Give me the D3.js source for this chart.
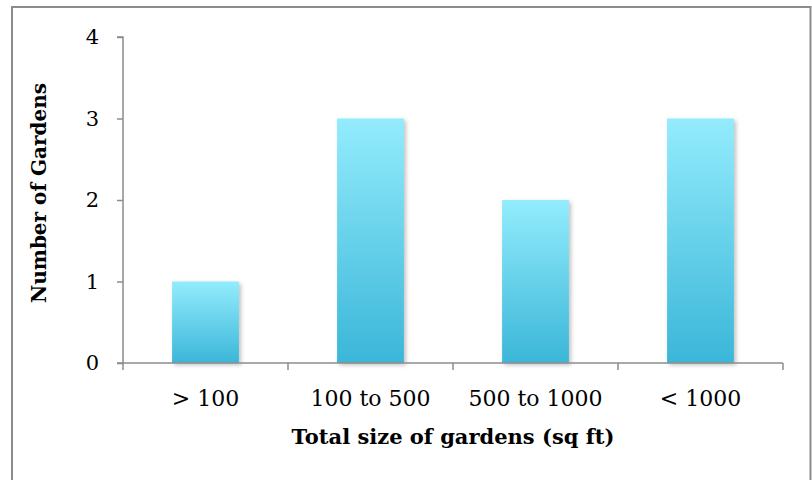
<!DOCTYPE html>
<html>
<head>
<meta charset="utf-8">
<script src="https://cdn.jsdelivr.net/npm/d3@7"></script>
<style>
  html, body { margin: 0; padding: 0; background: #fff; }
  svg { display: block; }
</style>
</head>
<body>
<svg id="chart" width="812" height="480"></svg>
<script>
// Garden counts by total size band
const categories = ["> 100", "100 to 500", "500 to 1000", "< 1000"];
const gardenCounts = [1, 3, 2, 3];
const yTicks = [0, 1, 2, 3, 4];
const xTitle = "Total size of gardens (sq ft)";
const yTitle = "Number of Gardens";

const svg = d3.select("#chart");
const font = "'DejaVu Serif', 'Liberation Serif', serif";

// frame around the chart area
svg.append("rect")
  .attr("x", 12).attr("y", 7)
  .attr("width", 798.5).attr("height", 500)
  .attr("fill", "#fff")
  .attr("stroke", "#8c8c8c").attr("stroke-width", 2);

const plot = { left: 123, right: 783, top: 37, bottom: 363 };

const x = d3.scaleBand().domain(categories).range([plot.left, plot.right]).padding(0);
const y = d3.scaleLinear().domain([0, 4]).range([plot.bottom, plot.top]);

const defs = svg.append("defs");
const grad = defs.append("linearGradient")
  .attr("id", "barFill").attr("x1", 0).attr("y1", 0).attr("x2", 0).attr("y2", 1);
grad.append("stop").attr("offset", "0%").attr("stop-color", "#93ecfd");
grad.append("stop").attr("offset", "100%").attr("stop-color", "#3bb6d8");

const shadow = defs.append("filter").attr("id", "barShadow")
  .attr("x", "-20%").attr("y", "-20%").attr("width", "150%").attr("height", "150%");
shadow.append("feDropShadow")
  .attr("dx", 2).attr("dy", 2).attr("stdDeviation", 2)
  .attr("flood-color", "#000").attr("flood-opacity", 0.25);

// bars
const barFrac = 0.405;
svg.append("g").selectAll("rect")
  .data(categories)
  .join("rect")
  .attr("x", d => x(d) + x.bandwidth() * (1 - barFrac) / 2)
  .attr("width", x.bandwidth() * barFrac)
  .attr("y", (d, i) => y(gardenCounts[i]))
  .attr("height", (d, i) => y(0) - y(gardenCounts[i]))
  .attr("fill", "url(#barFill)")
  .attr("filter", "url(#barShadow)");

const axisColor = "#8c8c8c";

// y axis
const yAxis = svg.append("g")
  .attr("transform", `translate(${plot.left},0)`)
  .call(d3.axisLeft(y).tickValues(yTicks).tickFormat(d3.format("d")).tickSize(6).tickPadding(18));
yAxis.select(".domain").attr("stroke", axisColor).attr("stroke-width", 1.5).attr("d", `M-6,${plot.top}H0V${plot.bottom}H-6`);
yAxis.selectAll(".tick line").attr("stroke", axisColor).attr("stroke-width", 1.5);
yAxis.selectAll(".tick text").attr("font-family", font).attr("font-size", 21).attr("fill", "#000");

// x axis with ticks on the band edges
const xAxisG = svg.append("g").attr("transform", `translate(0,${plot.bottom})`);
xAxisG.append("line")
  .attr("x1", plot.left).attr("x2", plot.right)
  .attr("stroke", axisColor).attr("stroke-width", 1.5);
const edges = categories.map(d => x(d)).concat([plot.right]);
xAxisG.selectAll(".edge")
  .data(edges)
  .join("line")
  .attr("class", "edge")
  .attr("x1", d => d).attr("x2", d => d)
  .attr("y1", 0).attr("y2", 7)
  .attr("stroke", axisColor).attr("stroke-width", 1.5);
xAxisG.selectAll(".lbl")
  .data(categories)
  .join("text")
  .attr("class", "lbl")
  .attr("x", d => x(d) + x.bandwidth() / 2)
  .attr("y", 43)
  .attr("text-anchor", "middle")
  .attr("font-family", font).attr("font-size", 22)
  .text(d => d);

// axis titles
svg.append("text")
  .attr("x", 453).attr("y", 444)
  .attr("text-anchor", "middle")
  .attr("font-family", font).attr("font-size", 21).attr("font-weight", "bold")
  .text(xTitle);

svg.append("text")
  .attr("transform", "translate(46,193) rotate(-90)")
  .attr("text-anchor", "middle")
  .attr("font-family", font).attr("font-size", 20).attr("font-weight", "bold")
  .text(yTitle);
</script>
</body>
</html>
